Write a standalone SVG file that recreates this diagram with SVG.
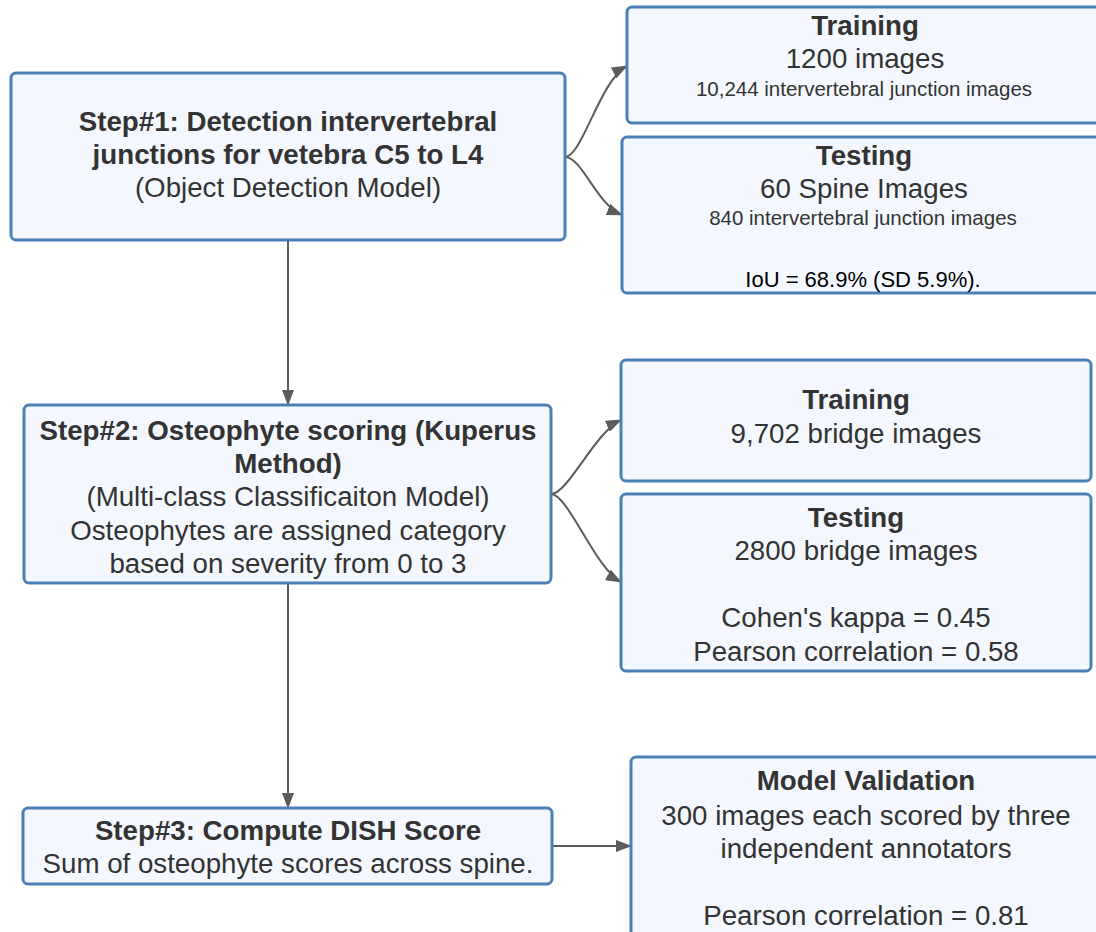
<svg xmlns="http://www.w3.org/2000/svg" width="1096" height="932" viewBox="0 0 1096 932">
<style>
.box{fill:#f4f8fe;stroke:#4b80b6;stroke-width:3}
text{font-family:"Liberation Sans",Arial,sans-serif;fill:#333333;text-anchor:middle}
.b{font-weight:bold;font-size:27.7px}
.r{font-size:27.7px}
.s{font-size:20.5px}
.k{font-size:22px;fill:#000000}
.c{fill:none;stroke:#5c5c5c;stroke-width:2}
</style>
<defs>
<marker id="ah" markerWidth="16" markerHeight="12" refX="15" refY="6" orient="auto" markerUnits="userSpaceOnUse">
<path d="M0,0 L16,6 L0,12 Z" fill="#5c5c5c"/>
</marker>
</defs>
<rect width="1096" height="932" fill="#ffffff"/>
<g id="connectors">
<path class="c" d="M288,240 L288,405" marker-end="url(#ah)"/>
<path class="c" d="M288,583 L288,808" marker-end="url(#ah)"/>
<path class="c" d="M552,846 L631,846" marker-end="url(#ah)"/>
<path class="c" d="M565,157 C582,157 600,80 627,66" marker-end="url(#ah)"/>
<path class="c" d="M565,157 C582,157 597,205 622,215" marker-end="url(#ah)"/>
<path class="c" d="M551,494 C568,494 595,432 621,420" marker-end="url(#ah)"/>
<path class="c" d="M551,494 C568,494 595,568 621,582" marker-end="url(#ah)"/>
</g>
<g id="step1">
<rect class="box" x="11" y="73" width="554" height="167" rx="5"/>
<text class="b" x="288" y="131">Step#1: Detection intervertebral</text>
<text class="b" x="288" y="164">junctions for vetebra C5 to L4</text>
<text class="r" x="288" y="197">(Object Detection Model)</text>
</g>
<g id="train1">
<rect class="box" x="627" y="7" width="478" height="116" rx="5"/>
<text class="b" x="865" y="35">Training</text>
<text class="r" x="865" y="68">1200 images</text>
<text class="s" x="864" y="96">10,244 intervertebral junction images</text>
</g>
<g id="test1">
<rect class="box" x="622" y="137" width="483" height="156" rx="5"/>
<text class="b" x="864" y="165">Testing</text>
<text class="r" x="864" y="198">60 Spine Images</text>
<text class="s" x="863" y="225">840 intervertebral junction images</text>
<text class="k" x="863" y="287">IoU = 68.9% (SD 5.9%).</text>
</g>
<g id="step2">
<rect class="box" x="24" y="405" width="527" height="178" rx="5"/>
<text class="b" x="288" y="440">Step#2: Osteophyte scoring (Kuperus</text>
<text class="b" x="288" y="473">Method)</text>
<text class="r" x="288" y="506">(Multi-class Classificaiton Model)</text>
<text class="r" x="288" y="540">Osteophytes are assigned category</text>
<text class="r" x="288" y="573">based on severity from 0 to 3</text>
</g>
<g id="train2">
<rect class="box" x="621" y="360" width="470" height="121" rx="5"/>
<text class="b" x="856" y="409">Training</text>
<text class="r" x="856" y="443">9,702 bridge images</text>
</g>
<g id="test2">
<rect class="box" x="621" y="494" width="470" height="177" rx="5"/>
<text class="b" x="856" y="527">Testing</text>
<text class="r" x="856" y="560">2800 bridge images</text>
<text class="r" x="856" y="627">Cohen's kappa = 0.45</text>
<text class="r" x="856" y="661">Pearson correlation = 0.58</text>
</g>
<g id="step3">
<rect class="box" x="23" y="808" width="529" height="76" rx="5"/>
<text class="b" x="288" y="840">Step#3: Compute DISH Score</text>
<text class="r" x="288" y="873">Sum of osteophyte scores across spine.</text>
</g>
<g id="validation">
<rect class="box" x="631" y="757" width="472" height="190" rx="5"/>
<text class="b" x="866" y="790">Model Validation</text>
<text class="r" x="866" y="825">300 images each scored by three</text>
<text class="r" x="866" y="858">independent annotators</text>
<text class="r" x="866" y="925">Pearson correlation = 0.81</text>
</g>
</svg>
